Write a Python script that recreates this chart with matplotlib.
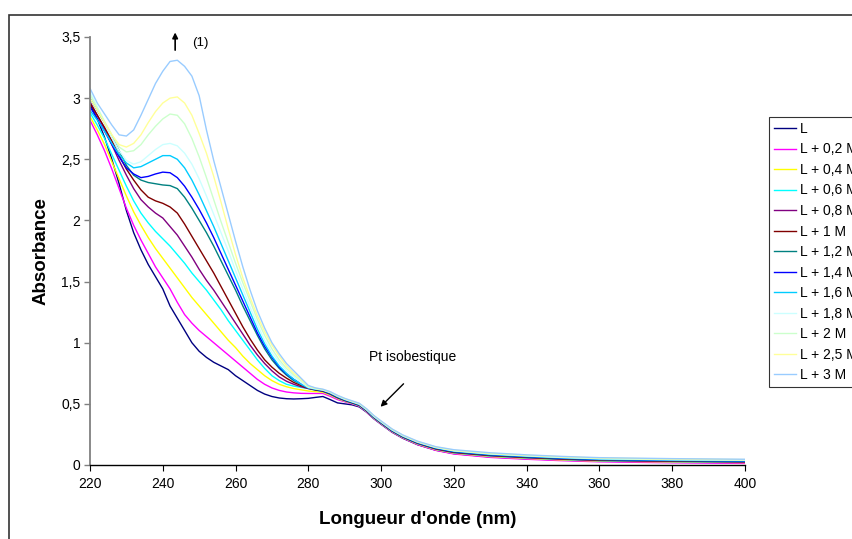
import matplotlib
matplotlib.use("Agg")
import matplotlib.pyplot as plt
from matplotlib.ticker import FuncFormatter, MultipleLocator
from matplotlib.patches import Rectangle

plt.rcParams['font.family'] = ['Liberation Sans', 'DejaVu Sans']

# wavelengths (nm)
wl = [220, 222, 224, 226, 228, 230, 232, 234, 236, 238, 240, 242, 244, 246, 248,
      250, 252, 254, 256, 258, 260, 262, 264, 266, 268, 270, 272, 274, 276, 278,
      280, 282, 284, 286, 288, 290, 292, 294, 296, 298, 300, 303, 306, 310, 315,
      320, 330, 340, 350, 360, 380, 400]

labels = ["L", "L + 0,2 M", "L + 0,4 M", "L + 0,6 M", "L + 0,8 M", "L + 1 M",
          "L + 1,2 M", "L + 1,4 M", "L + 1,6 M", "L + 1,8 M", "L + 2 M",
          "L + 2,5 M", "L + 3 M"]
colors = ["#000080", "#FF00FF", "#FFFF00", "#00FFFF", "#800080", "#800000",
          "#008080", "#0000FF", "#00CCFF", "#CCFFFF", "#CCFFCC", "#FFFF99",
          "#99CCFF"]

a_L = [2.95, 2.83, 2.68, 2.50, 2.30, 2.08, 1.90, 1.76, 1.64, 1.54, 1.44, 1.30, 1.20, 1.10, 1.00,
       0.93, 0.88, 0.84, 0.81, 0.78, 0.73, 0.69, 0.65, 0.61, 0.58, 0.56, 0.548, 0.542, 0.54, 0.542,
       0.545, 0.553, 0.56, 0.535, 0.508, 0.50, 0.492, 0.475, 0.432, 0.378, 0.333, 0.268, 0.218, 0.166, 0.121,
       0.093, 0.066, 0.051, 0.04, 0.031, 0.025, 0.02]
a_02 = [2.82, 2.70, 2.57, 2.42, 2.26, 2.10, 1.96, 1.84, 1.73, 1.62, 1.53, 1.44, 1.33, 1.23, 1.16,
        1.10, 1.05, 1.00, 0.95, 0.90, 0.85, 0.80, 0.75, 0.70, 0.66, 0.63, 0.61, 0.597, 0.59, 0.586,
        0.585, 0.585, 0.585, 0.562, 0.535, 0.517, 0.50, 0.48, 0.435, 0.38, 0.335, 0.27, 0.22, 0.167, 0.12,
        0.09, 0.062, 0.047, 0.035, 0.026, 0.018, 0.013]
a_04 = [2.85, 2.74, 2.62, 2.48, 2.34, 2.20, 2.07, 1.96, 1.86, 1.77, 1.69, 1.61, 1.53, 1.45, 1.37,
        1.30, 1.23, 1.16, 1.09, 1.02, 0.96, 0.89, 0.83, 0.78, 0.73, 0.69, 0.66, 0.64, 0.625, 0.615,
        0.605, 0.60, 0.595, 0.572, 0.544, 0.522, 0.504, 0.484, 0.439, 0.384, 0.339, 0.274, 0.224, 0.172, 0.126,
        0.097, 0.069, 0.054, 0.041, 0.032, 0.025, 0.02]
a_06 = [2.88, 2.78, 2.67, 2.54, 2.41, 2.28, 2.16, 2.06, 1.98, 1.91, 1.85, 1.79, 1.72, 1.65, 1.57,
        1.50, 1.43, 1.35, 1.27, 1.18, 1.10, 1.02, 0.94, 0.86, 0.79, 0.73, 0.69, 0.66, 0.645, 0.635,
        0.625, 0.612, 0.602, 0.578, 0.548, 0.525, 0.506, 0.486, 0.441, 0.386, 0.341, 0.276, 0.226, 0.175, 0.129,
        0.10, 0.073, 0.058, 0.045, 0.035, 0.028, 0.023]
a_08 = [2.97, 2.86, 2.75, 2.62, 2.49, 2.37, 2.26, 2.17, 2.11, 2.06, 2.02, 1.95, 1.88, 1.79, 1.70,
        1.60, 1.51, 1.43, 1.34, 1.25, 1.16, 1.07, 0.98, 0.90, 0.83, 0.77, 0.72, 0.685, 0.66, 0.64,
        0.625, 0.613, 0.603, 0.58, 0.55, 0.527, 0.508, 0.488, 0.443, 0.388, 0.343, 0.278, 0.228, 0.177, 0.131,
        0.102, 0.076, 0.06, 0.047, 0.037, 0.03, 0.025]
a_1 = [2.96, 2.86, 2.76, 2.65, 2.53, 2.42, 2.33, 2.25, 2.19, 2.16, 2.14, 2.11, 2.06, 1.97, 1.87,
       1.77, 1.67, 1.57, 1.46, 1.35, 1.24, 1.13, 1.03, 0.94, 0.86, 0.80, 0.75, 0.71, 0.675, 0.65,
       0.628, 0.615, 0.605, 0.583, 0.553, 0.53, 0.51, 0.49, 0.445, 0.39, 0.345, 0.28, 0.23, 0.18, 0.134,
       0.105, 0.079, 0.063, 0.05, 0.04, 0.032, 0.027]
a_12 = [3.00, 2.90, 2.80, 2.69, 2.57, 2.45, 2.37, 2.33, 2.31, 2.30, 2.29, 2.285, 2.26, 2.19, 2.10,
        2.00, 1.90, 1.79, 1.67, 1.55, 1.43, 1.30, 1.18, 1.06, 0.95, 0.86, 0.79, 0.735, 0.69, 0.66,
        0.632, 0.618, 0.608, 0.586, 0.556, 0.532, 0.512, 0.492, 0.447, 0.392, 0.347, 0.282, 0.232, 0.182, 0.137,
        0.108, 0.082, 0.066, 0.053, 0.043, 0.035, 0.03]
a_14 = [2.93, 2.83, 2.73, 2.62, 2.52, 2.43, 2.38, 2.35, 2.36, 2.38, 2.395, 2.39, 2.35, 2.28, 2.19,
        2.09, 1.98, 1.86, 1.73, 1.60, 1.47, 1.34, 1.21, 1.08, 0.97, 0.88, 0.80, 0.745, 0.70, 0.665,
        0.635, 0.62, 0.61, 0.588, 0.558, 0.534, 0.514, 0.494, 0.449, 0.394, 0.349, 0.284, 0.234, 0.184, 0.139,
        0.111, 0.085, 0.069, 0.056, 0.046, 0.038, 0.033]
a_16 = [2.90, 2.82, 2.73, 2.63, 2.54, 2.47, 2.43, 2.44, 2.47, 2.50, 2.53, 2.53, 2.50, 2.43, 2.33,
        2.21, 2.08, 1.95, 1.81, 1.67, 1.53, 1.39, 1.25, 1.11, 0.99, 0.89, 0.81, 0.75, 0.70, 0.66,
        0.63, 0.62, 0.612, 0.59, 0.56, 0.536, 0.516, 0.496, 0.451, 0.396, 0.351, 0.286, 0.236, 0.186, 0.141,
        0.113, 0.087, 0.071, 0.058, 0.048, 0.04, 0.035]
a_18 = [3.05, 2.93, 2.80, 2.68, 2.57, 2.49, 2.46, 2.48, 2.53, 2.58, 2.62, 2.63, 2.61, 2.55, 2.46,
        2.34, 2.20, 2.05, 1.90, 1.75, 1.59, 1.44, 1.29, 1.15, 1.02, 0.92, 0.84, 0.77, 0.72, 0.675,
        0.635, 0.622, 0.613, 0.593, 0.563, 0.538, 0.518, 0.498, 0.453, 0.398, 0.353, 0.288, 0.238, 0.188, 0.143,
        0.116, 0.09, 0.074, 0.061, 0.051, 0.043, 0.038]
a_2 = [3.03, 2.92, 2.81, 2.70, 2.60, 2.56, 2.57, 2.62, 2.70, 2.77, 2.83, 2.87, 2.86, 2.79, 2.67,
       2.52, 2.35, 2.17, 1.99, 1.82, 1.65, 1.49, 1.34, 1.19, 1.06, 0.95, 0.86, 0.79, 0.735, 0.69,
       0.64, 0.625, 0.615, 0.595, 0.565, 0.54, 0.52, 0.50, 0.455, 0.40, 0.355, 0.29, 0.24, 0.19, 0.145,
       0.118, 0.093, 0.077, 0.064, 0.054, 0.046, 0.041]
a_25 = [3.00, 2.90, 2.80, 2.70, 2.62, 2.60, 2.63, 2.70, 2.80, 2.89, 2.96, 3.00, 3.01, 2.96, 2.86,
        2.71, 2.55, 2.36, 2.15, 1.93, 1.72, 1.53, 1.37, 1.22, 1.09, 0.98, 0.89, 0.81, 0.75, 0.70,
        0.645, 0.628, 0.617, 0.597, 0.567, 0.542, 0.522, 0.502, 0.457, 0.402, 0.357, 0.292, 0.242, 0.192, 0.147,
        0.121, 0.096, 0.08, 0.067, 0.057, 0.049, 0.044]
a_3 = [3.08, 2.96, 2.87, 2.78, 2.70, 2.69, 2.74, 2.86, 2.99, 3.12, 3.22, 3.30, 3.31, 3.26, 3.18,
       3.02, 2.74, 2.49, 2.27, 2.05, 1.83, 1.62, 1.43, 1.26, 1.12, 1.00, 0.91, 0.83, 0.77, 0.71,
       0.65, 0.63, 0.62, 0.60, 0.57, 0.545, 0.525, 0.505, 0.46, 0.405, 0.36, 0.295, 0.245, 0.195, 0.15,
       0.125, 0.10, 0.083, 0.07, 0.06, 0.052, 0.047]

series = [a_L, a_02, a_04, a_06, a_08, a_1, a_12, a_14, a_16, a_18, a_2, a_25, a_3]

W, H = 853, 539
fig = plt.figure(figsize=(W / 100, H / 100), dpi=100)
ax = fig.add_axes([90 / W, 1 - 465 / H, (745 - 90) / W, (465 - 37) / H])

for ys, c, lab in zip(series, colors, labels):
    ax.plot(wl, ys, color=c, lw=1.0, label=lab)

ax.set_xlim(220, 400)
ax.set_ylim(0, 3.5)
ax.xaxis.set_major_locator(MultipleLocator(20))
ax.yaxis.set_major_locator(MultipleLocator(0.5))
ax.yaxis.set_major_formatter(FuncFormatter(lambda v, p: f"{v:g}".replace('.', ',')))
for s in ['top', 'right']:
    ax.spines[s].set_visible(False)
ax.spines['left'].set_color('#808080')
ax.spines['left'].set_linewidth(1.3)
ax.spines['bottom'].set_color('black')
ax.spines['bottom'].set_linewidth(1.0)
ax.tick_params(axis='both', direction='out', length=4, labelsize=10, colors='black', pad=3)
ax.tick_params(axis='y', color='#808080', width=1.0)
ax.tick_params(axis='x', pad=5)

ax.set_xlabel("Longueur d'onde (nm)", fontsize=13.5, fontweight='bold', labelpad=14)
ax.set_ylabel("Absorbance", fontsize=13.5, fontweight='bold', labelpad=8)

# annotations
ax.annotate('', xy=(243.4, 3.56), xytext=(243.4, 3.37), xycoords='data',
            arrowprops=dict(arrowstyle='-|>', color='black', lw=1.2, mutation_scale=8),
            annotation_clip=False)
ax.text(248.0, 3.45, '(1)', fontsize=9.5, va='center', ha='left', clip_on=False)
ax.text(296.7, 0.88, 'Pt isobestique', fontsize=10, va='center', ha='left')
ax.annotate('', xy=(299.3, 0.46), xytext=(306.7, 0.68),
            arrowprops=dict(arrowstyle='-|>', color='black', lw=1.0, mutation_scale=9))

leg = ax.legend(loc='upper left', bbox_to_anchor=(769 / W, 1 - 117 / H),
                bbox_transform=fig.transFigure, fontsize=10, frameon=True,
                fancybox=False, edgecolor='black', borderaxespad=0,
                handlelength=1.6, handletextpad=0.3, labelspacing=0.47,
                borderpad=0.35)
leg.get_frame().set_linewidth(0.8)

# outer chart frame (partially cropped)
fig.patches.append(Rectangle((9 / W, -0.1), 1.2, 1 - 15 / H + 0.1,
                             transform=fig.transFigure, fill=False,
                             edgecolor='#333333', lw=1.2))

fig.savefig('out.png', dpi=100)
